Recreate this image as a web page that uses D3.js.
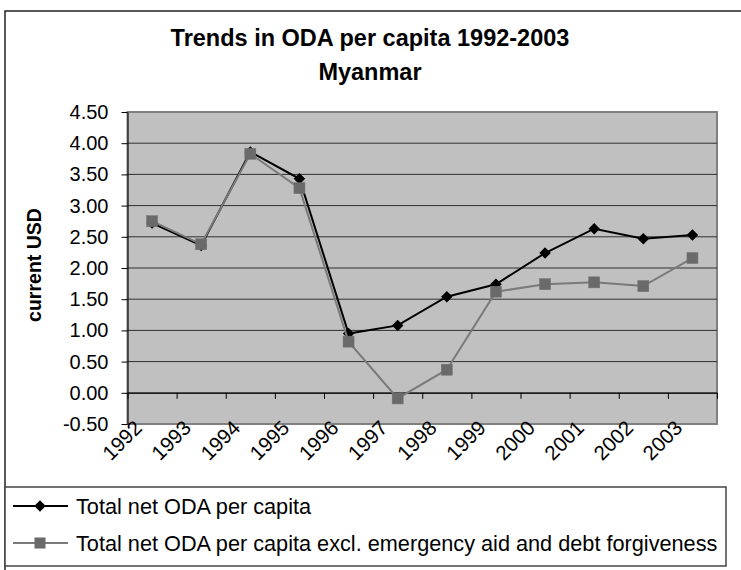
<!DOCTYPE html>
<html><head><meta charset="utf-8">
<script src="https://cdn.jsdelivr.net/npm/d3@7/dist/d3.min.js"></script>
<style>
body{margin:0;background:#fff}
text{font-family:"Liberation Sans",Arial,sans-serif;fill:#000}
</style>
</head><body>
<svg id="c" width="741" height="570"></svg>
<script>
const years = ["1992","1993","1994","1995","1996","1997","1998","1999","2000","2001","2002","2003"];
const totalODA = [2.72,2.36,3.86,3.43,0.95,1.08,1.54,1.74,2.24,2.63,2.47,2.53];
const exclODA  = [2.75,2.38,3.83,3.28,0.82,-0.09,0.37,1.62,1.74,1.77,1.71,2.16];
const yTicks = [-0.5,0,0.5,1,1.5,2,2.5,3,3.5,4,4.5];
const seriesNames = ["Total net ODA per capita","Total net ODA per capita excl. emergency aid and debt forgiveness"];
const titleLines = ["Trends in ODA per capita 1992-2003","Myanmar"];
const yTitle = "current USD";

const svg = d3.select("#c");
const L = 127.5, R = 717, T = 112, B = 424;

// outer border
svg.append("rect").attr("x",5).attr("y",11).attr("width",740).attr("height",565)
  .attr("fill","#fff").attr("stroke","#222").attr("stroke-width",1.5);

const x = d3.scaleBand().domain(years).range([L,R]);
const xEdge = d3.scaleLinear().domain([0,years.length]).range([L,R]);
const y = d3.scaleLinear().domain([-0.5,4.5]).range([B,T]);

// plot area
svg.append("rect").attr("x",L).attr("y",T).attr("width",R-L).attr("height",B-T)
  .attr("fill","#c0c0c0").attr("stroke","#808080").attr("stroke-width",2);

// gridlines
svg.append("g").selectAll("line").data(yTicks.filter(v=>v>-0.5 && v<4.5)).join("line")
  .attr("x1",L).attr("x2",R).attr("y1",d=>y(d)).attr("y2",d=>y(d))
  .attr("stroke","#303030").attr("stroke-width",1);

// y axis
const ya = svg.append("g").attr("transform",`translate(${L},0)`)
  .call(d3.axisLeft(y).tickValues(yTicks).tickFormat(d=>d.toFixed(2)).tickSize(6).tickSizeOuter(0).tickPadding(13));
ya.select(".domain").attr("stroke","#000");
ya.selectAll("line").attr("stroke","#000");
ya.selectAll("text").style("font-size","20px").attr("fill","#000");

// x axis at zero
const xa = svg.append("g").attr("transform",`translate(0,${y(0)})`)
  .call(d3.axisBottom(xEdge).tickValues(d3.range(0,years.length+1)).tickFormat("").tickSize(6).tickSizeOuter(0));
xa.select(".domain").attr("stroke","#000");
xa.selectAll("line").attr("stroke","#000");

// x labels rotated
svg.append("g").selectAll("text").data(years).join("text")
  .attr("transform",d=>`translate(${x(d)+x.bandwidth()/2-19},${B-5}) rotate(-45)`)
  .attr("text-anchor","end").attr("dy","0.7em")
  .style("font-size","20.5px").text(d=>d);

// y title
svg.append("text").attr("transform","translate(41,265) rotate(-90)")
  .attr("text-anchor","middle").style("font-size","19.5px").style("font-weight","bold").text(yTitle);

// title
svg.append("text").attr("x",370).attr("y",46).attr("text-anchor","middle")
  .style("font-size","23.5px").style("font-weight","bold").text(titleLines[0]);
svg.append("text").attr("x",370).attr("y",80).attr("text-anchor","middle")
  .style("font-size","23.5px").style("font-weight","bold").text(titleLines[1]);

const cx = (d,i)=>x(years[i])+x.bandwidth()/2;
const line = d3.line().x((d,i)=>cx(d,i)).y(d=>y(d));

// series 1
svg.append("path").datum(totalODA).attr("d",line).attr("fill","none").attr("stroke","#000").attr("stroke-width",2);
const diamond = d3.symbol().type(d3.symbolDiamond2).size(85);
svg.append("g").selectAll("path").data(totalODA).join("path")
  .attr("transform",(d,i)=>`translate(${cx(d,i)},${y(d)})`).attr("d",diamond).attr("fill","#000");

// series 2
svg.append("path").datum(exclODA).attr("d",line).attr("fill","none").attr("stroke","#7a7a7a").attr("stroke-width",2);
svg.append("g").selectAll("rect").data(exclODA).join("rect")
  .attr("x",(d,i)=>cx(d,i)-5.5).attr("y",d=>y(d)-5.5).attr("width",11).attr("height",11)
  .attr("fill","#6a6a6a").attr("stroke","#707070").attr("stroke-width",0.5);

// legend
svg.append("rect").attr("x",5).attr("y",487).attr("width",721).attr("height",79)
  .attr("fill","#fff").attr("stroke","#444").attr("stroke-width",1.5);
const ly = [506,543];
svg.append("line").attr("x1",13).attr("x2",68).attr("y1",ly[0]).attr("y2",ly[0]).attr("stroke","#000").attr("stroke-width",2);
svg.append("path").attr("transform",`translate(40,${ly[0]})`).attr("d",diamond).attr("fill","#000");
svg.append("line").attr("x1",13).attr("x2",68).attr("y1",ly[1]).attr("y2",ly[1]).attr("stroke","#7a7a7a").attr("stroke-width",2);
svg.append("rect").attr("x",34.5).attr("y",ly[1]-5.5).attr("width",11).attr("height",11).attr("fill","#6a6a6a");
svg.append("g").selectAll("text").data(seriesNames).join("text")
  .attr("x",76).attr("y",(d,i)=>ly[i]).attr("dy","0.35em").style("font-size","21.7px").text(d=>d);
</script>
</body></html>
